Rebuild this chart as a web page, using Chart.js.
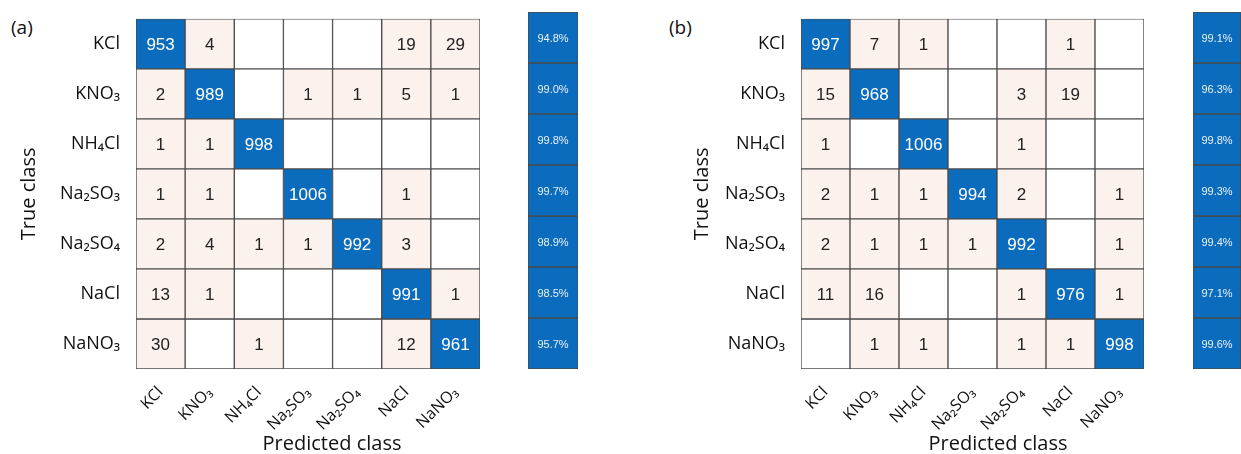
<!DOCTYPE html>
<html>
<head>
<meta charset="utf-8">
<script src="https://cdn.jsdelivr.net/npm/chart.js@4.4.1/dist/chart.umd.min.js"></script>
<style>
  body { margin: 0; width: 1241px; height: 454px; position: relative; background: #fff; overflow: hidden;
         font-family: 'Open Sans', 'Noto Sans', sans-serif; }
  .box { position: absolute; top: 0; height: 454px; }
  .lab { position: absolute; font-size: 19px; color: #111; line-height: 26px; }
  .xt { transform: translateX(-50%); white-space: nowrap; font-size: 20px; }
</style>
</head>
<body>
<div class="lab" style="left:11px;top:14px">(a)</div>
<div class="lab" style="left:669px;top:14px">(b)</div>
<div class="box" style="left:0;width:490px"><canvas id="matA"></canvas></div>
<div class="box" style="left:520px;width:70px"><canvas id="sumA"></canvas></div>
<div class="box" style="left:650px;width:504px"><canvas id="matB"></canvas></div>
<div class="box" style="left:1180px;width:61px"><canvas id="sumB"></canvas></div>
<div class="lab xt" style="left:332px;top:430px">Predicted class</div>
<div class="lab xt" style="left:998px;top:430px">Predicted class</div>

<script>
const classes = ['KCl', 'KNO₃', 'NH₄Cl', 'Na₂SO₃', 'Na₂SO₄', 'NaCl', 'NaNO₃'];

// rows = true class, columns = predicted class
const confA = [
  [953, 4, 0, 0, 0, 19, 29],
  [2, 989, 0, 1, 1, 5, 1],
  [1, 1, 998, 0, 0, 0, 0],
  [1, 1, 0, 1006, 0, 1, 0],
  [2, 4, 1, 1, 992, 3, 0],
  [13, 1, 0, 0, 0, 991, 1],
  [30, 0, 1, 0, 0, 12, 961]
];
const confB = [
  [997, 7, 1, 0, 0, 1, 0],
  [15, 968, 0, 0, 3, 19, 0],
  [1, 0, 1006, 0, 1, 0, 0],
  [2, 1, 1, 994, 2, 0, 1],
  [2, 1, 1, 1, 992, 0, 1],
  [11, 16, 0, 0, 1, 976, 1],
  [0, 1, 1, 0, 1, 1, 998]
];
const recallA = [94.8, 99.0, 99.8, 99.7, 98.9, 98.5, 95.7];
const recallB = [99.1, 96.3, 99.8, 99.3, 99.4, 97.1, 99.6];

const BLUE = '#0b6cbd';
const PINK = '#fbf1ed';
const LINE = '#4a4a4a';
const FONT = "'Open Sans', 'Noto Sans', sans-serif";

function cellColor(m, r, c) {
  const v = m[r][c];
  if (v === 0) return '#ffffff';
  return r === c ? BLUE : PINK;
}

// writes the count in the middle of every non-empty cell
const cellText = {
  id: 'cellText',
  afterDatasetsDraw(chart, args, opts) {
    const ctx = chart.ctx;
    ctx.save();
    ctx.textAlign = 'center';
    ctx.textBaseline = 'middle';
    ctx.font = opts.size + "px 'Liberation Sans', Arial, sans-serif";
    chart.data.datasets.forEach((ds, r) => {
      chart.getDatasetMeta(r).data.forEach((bar, c) => {
        const txt = opts.text(r, c);
        if (txt === null) return;
        ctx.fillStyle = opts.color(r, c);
        ctx.fillText(txt, bar.x, (bar.y + bar.base) / 2 + 1);
      });
    });
    ctx.restore();
  }
};

function matrixChart(id, m, yAxisWidth, titlePad) {
  return new Chart(document.getElementById(id), {
    type: 'bar',
    data: {
      labels: classes,
      datasets: classes.map((name, r) => ({
        label: name,
        data: classes.map(() => [r, r + 1]),
        backgroundColor: ctx => cellColor(m, r, ctx.dataIndex),
        borderColor: LINE,
        borderWidth: 1,
        borderSkipped: false,
        barPercentage: 1,
        categoryPercentage: 1
      }))
    },
    options: {
      responsive: true,
      maintainAspectRatio: false,
      animation: false,
      layout: { padding: { top: 12, right: 10, bottom: 0, left: 0 } },
      plugins: {
        legend: { display: false },
        tooltip: { enabled: false },
        cellText: {
          size: 17,
          text: (r, c) => m[r][c] === 0 ? null : String(m[r][c]),
          color: (r, c) => r === c ? '#ffffff' : '#222222'
        }
      },
      scales: {
        x: {
          stacked: true,
          grid: { display: false },
          border: { display: false },
          ticks: {
            maxRotation: 45, minRotation: 45, padding: 6,
            color: '#111',
            font: { family: FONT, size: 16 }
          },
          afterFit(axis) { axis.height = 85; }
        },
        y: {
          min: 0, max: 7, reverse: true,
          grid: { display: false },
          border: { display: false },
          afterBuildTicks(axis) { axis.ticks = classes.map((c, i) => ({ value: i + 0.5 })); },
          ticks: {
            padding: 8,
            color: '#111',
            font: { family: FONT, size: 18 },
            callback: (v, i) => classes[i]
          },
          title: {
            display: true, text: 'True class', color: '#111',
            font: { family: FONT, size: 20 },
            padding: { top: titlePad, bottom: 0 }
          },
          afterFit(axis) { axis.width = yAxisWidth; }
        }
      }
    },
    plugins: [cellText]
  });
}

function summaryChart(id, rec, padLeft, padRight) {
  return new Chart(document.getElementById(id), {
    type: 'bar',
    data: {
      labels: [''],
      datasets: rec.map((v, r) => ({
        label: classes[r],
        data: [[r, r + 1]],
        backgroundColor: BLUE,
        borderColor: LINE,
        borderWidth: 1,
        borderSkipped: false,
        barPercentage: 1,
        categoryPercentage: 1
      }))
    },
    options: {
      responsive: true,
      maintainAspectRatio: false,
      animation: false,
      layout: { padding: { top: 12, right: padRight, bottom: 85, left: padLeft } },
      plugins: {
        legend: { display: false },
        tooltip: { enabled: false },
        cellText: {
          size: 11,
          text: (r) => rec[r].toFixed(1) + '%',
          color: () => '#e8f1fa'
        }
      },
      scales: {
        x: { stacked: true, display: false },
        y: { min: 0, max: 7, reverse: true, display: false }
      }
    },
    plugins: [cellText]
  });
}

matrixChart('matA', confA, 136, 17);
summaryChart('sumA', recallA, 8, 12);
matrixChart('matB', confB, 151, 40);
summaryChart('sumB', recallB, 13, 0);
</script>
</body>
</html>
